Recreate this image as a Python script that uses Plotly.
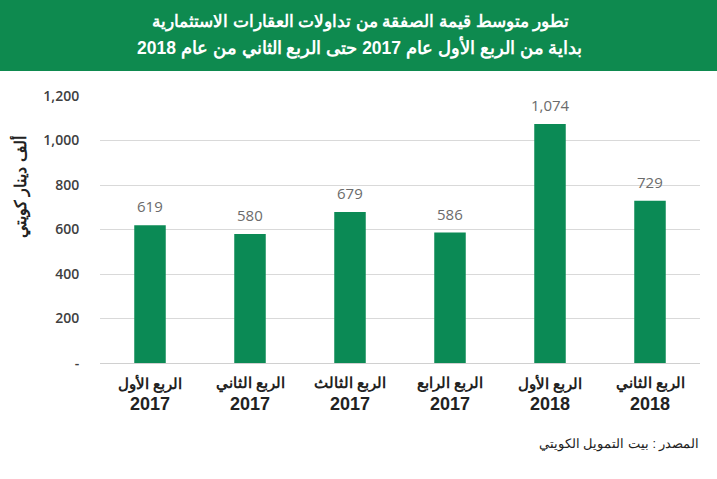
import plotly.graph_objects as go

quarters = ["الربع الأول", "الربع الثاني", "الربع الثالث", "الربع الرابع", "الربع الأول", "الربع الثاني"]
years = ["2017", "2017", "2017", "2017", "2018", "2018"]
values = [619, 580, 679, 586, 1074, 729]
tick_vals = [0, 200, 400, 600, 800, 1000, 1200]
tick_text = ["-", "200", "400", "600", "800", "1,000", "1,200"]

title_line1 = "تطور متوسط قيمة الصفقة من تداولات العقارات الاستثمارية"
title_line2 = "بداية من الربع الأول عام 2017 حتى الربع الثاني من عام 2018"
y_title = "ألف دينار كويتي"
source = "المصدر : بيت التمويل الكويتي"

green = "#0b8a55"
cats = list(range(len(values)))

fig = go.Figure()
fig.add_trace(go.Bar(x=cats, y=values, marker=dict(color=green, line=dict(width=0)), hoverinfo="skip"))

W, H = 717, 479
L, R, T, B = 100, 17, 96, 116
pw, ph = W - L - R, H - T - B

def px_x(x):
    return (x - L) / pw

def px_y(y):
    return (H - B - y) / ph

annotations = []
for c, v in zip(cats, values):
    annotations.append(dict(x=c, y=v, xref="x", yref="y", text=f"{v:,}", showarrow=False,
                            yanchor="bottom", yshift=7,
                            font=dict(family="Open Sans", size=15, color="#6b6b6b")))

for c, q, yr in zip(cats, quarters, years):
    annotations.append(dict(x=c, y=px_y(383), xref="x", yref="paper", text=f"<b>{q}</b>",
                            showarrow=False, xanchor="center", yanchor="middle",
                            font=dict(family="Liberation Sans", size=15, color="#222222")))
    annotations.append(dict(x=c, y=px_y(404), xref="x", yref="paper", text=f"<b>{yr}</b>",
                            showarrow=False, xanchor="center", yanchor="middle",
                            font=dict(family="Liberation Sans", size=18, color="#222222")))

annotations += [
    dict(x=px_x(360), y=px_y(22), xref="paper", yref="paper", text=f"<b>{title_line1}</b>",
         showarrow=False, xanchor="center", yanchor="middle",
         font=dict(family="Liberation Sans", size=16.5, color="white")),
    dict(x=px_x(359), y=px_y(47), xref="paper", yref="paper", text=f"<b>{title_line2}</b>",
         showarrow=False, xanchor="center", yanchor="middle",
         font=dict(family="Liberation Sans", size=17.5, color="white")),
    dict(x=px_x(20), y=px_y(187), xref="paper", yref="paper", text=f"<b>{y_title}</b>",
         showarrow=False, textangle=-90, xanchor="center", yanchor="middle",
         font=dict(family="Liberation Sans", size=16, color="#222222")),
    dict(x=px_x(701), y=px_y(445), xref="paper", yref="paper", text=source,
         showarrow=False, xanchor="right", yanchor="middle",
         font=dict(family="Liberation Sans", size=12.5, color="#222222")),
]

shapes = [
    dict(type="rect", xref="paper", yref="paper", x0=px_x(0), x1=px_x(W), y0=px_y(71), y1=px_y(0),
         fillcolor="#0e8a4f", line=dict(width=0), layer="below"),
]

fig.update_layout(
    width=W, height=H, autosize=False,
    margin=dict(l=L, r=R, t=T, b=B),
    paper_bgcolor="white", plot_bgcolor="white",
    showlegend=False,
    bargap=0.685,
    xaxis=dict(tickmode="array", tickvals=cats, ticktext=["" for _ in cats], range=[-0.5, 5.5],
               showgrid=False, showline=True, linecolor="#d0d0d0", linewidth=1, ticks="",
               fixedrange=True),
    yaxis=dict(range=[0, 1200], tickmode="array", tickvals=tick_vals, ticktext=tick_text,
               showgrid=True, gridcolor="#d9d9d9", gridwidth=1, zeroline=False, showline=False,
               ticks="outside", ticklen=17, tickcolor="rgba(0,0,0,0)",
               tickfont=dict(family="Open Sans", size=14, color="#404040", weight=600), fixedrange=True),
    annotations=annotations,
    shapes=shapes,
)

fig.write_html("out.html")
